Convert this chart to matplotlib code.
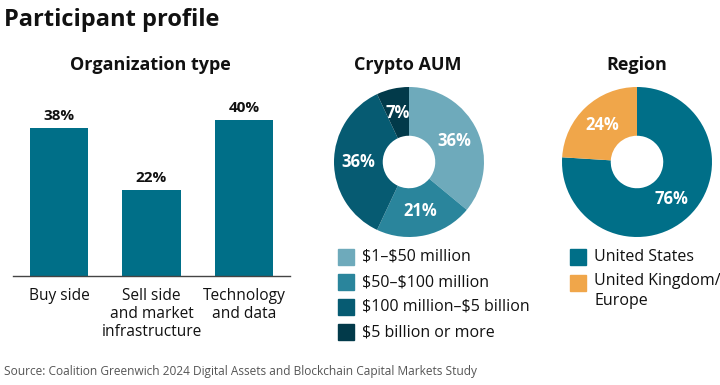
import matplotlib
matplotlib.use('Agg')
import matplotlib.pyplot as plt
import matplotlib.patches as mpatches

plt.rcParams['font.family'] = ['Open Sans', 'DejaVu Sans']

# ---------------------------------------------------------------------------
# Data
# ---------------------------------------------------------------------------
org_labels = ['Buy side', 'Sell side\nand market\ninfrastructure', 'Technology\nand data']
org_values = [38, 22, 40]

aum_labels = [r'\$1–\$50 million', r'\$50–\$100 million', r'\$100 million–\$5 billion',
              r'\$5 billion or more']
aum_values = [36, 21, 36, 7]
aum_colors = ['#6eaabb', '#2a859c', '#065b72', '#023a4a']

region_labels = ['United States', 'United Kingdom/\nEurope']
region_values = [76, 24]
region_colors = ['#006f88', '#f0a64a']

BAR_COLOR = '#006f88'
W, H = 720, 385

fig = plt.figure(figsize=(7.2, 3.85), dpi=100)
fig.patch.set_facecolor('white')


def px_axes(left, top, right, bottom):
    """axes from pixel box (origin top-left)"""
    return fig.add_axes([left / W, 1 - bottom / H, (right - left) / W, (bottom - top) / H])


# titles
fig.text(4 / W, 1 - 20 / H, 'Participant profile', fontsize=17, fontweight='bold',
         va='center', ha='left', color='#111111')
for x, t in [(150, 'Organization type'), (408, 'Crypto AUM'), (637, 'Region')]:
    fig.text(x / W, 1 - 65 / H, t, fontsize=13, fontweight='bold', ha='center', va='center',
             color='#111111')

# ---------------------------------------------------------------------------
# Bar chart
# ---------------------------------------------------------------------------
ax = px_axes(13, 81, 290, 276)
xs = range(len(org_values))
ax.bar(xs, org_values, width=0.63, color=BAR_COLOR)
ax.set_xlim(-0.5, 2.5)
ax.set_ylim(0, 50)
for s in ['top', 'right', 'left']:
    ax.spines[s].set_visible(False)
ax.spines['bottom'].set_color('#444444')
ax.spines['bottom'].set_linewidth(1)
ax.set_yticks([])
ax.set_xticks(list(xs))
ax.set_xticklabels(org_labels, fontsize=11.2, linespacing=1.15, color='#111111', va='top')
ax.tick_params(axis='x', length=0, pad=9)
for x, v in zip(xs, org_values):
    ax.text(x, v + 1.3, f'{v}%', ha='center', va='bottom', fontsize=11, fontweight='bold',
            color='#111111')

# ---------------------------------------------------------------------------
# Donuts
# ---------------------------------------------------------------------------
def donut(cx, cy, values, colors):
    a = px_axes(cx - 75, cy - 75, cx + 75, cy + 75)
    a.pie(values, colors=colors, startangle=90, counterclock=False,
          radius=1, autopct='%d%%', pctdistance=0.67,
          wedgeprops=dict(width=0.65, linewidth=0),
          textprops=dict(color='white', fontsize=12, fontweight='bold'))
    a.set_xlim(-1, 1)
    a.set_ylim(-1, 1)
    a.set_aspect('equal')
    a.axis('off')


donut(409, 162, aum_values, aum_colors)
donut(637, 162, region_values, region_colors)

# ---------------------------------------------------------------------------
# Legends
# ---------------------------------------------------------------------------
def swatch(x, y, c):
    fig.patches.append(mpatches.Rectangle((x / W, 1 - (y + 8) / H), 16 / W, 16 / H,
                                          transform=fig.transFigure, color=c))


for y, lab, c in zip([257, 282, 307, 332], aum_labels, aum_colors):
    swatch(338, y, c)
    fig.text(362 / W, 1 - y / H, lab, fontsize=11.5, ha='left', va='center', color='#111111')

swatch(570, 257, region_colors[0])
fig.text(594 / W, 1 - 257 / H, region_labels[0], fontsize=11.5, va='center', color='#111111')
swatch(570, 283, region_colors[1])
fig.text(594 / W, 1 - 273 / H, region_labels[1], fontsize=11.5, va='top', color='#111111',
         linespacing=1.3)

fig.text(4 / W, 1 - 371 / H,
         'Source: Coalition Greenwich 2024 Digital Assets and Blockchain Capital Markets Study',
         fontsize=8.6, color='#555555', va='center', ha='left')

fig.savefig('out.png', dpi=100)
